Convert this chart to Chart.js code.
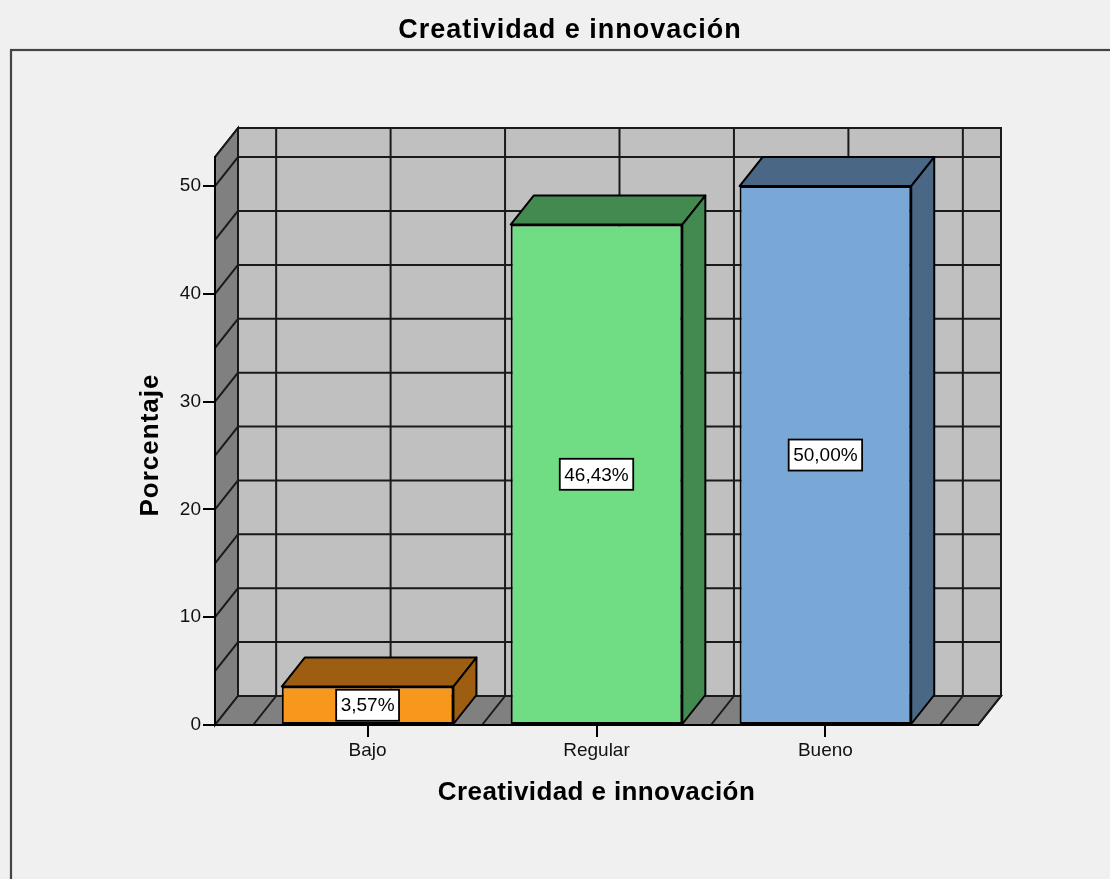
<!DOCTYPE html>
<html>
<head>
<meta charset="utf-8">
<title>Creatividad e innovación</title>
<script src="https://cdn.jsdelivr.net/npm/chart.js@4.4.0/dist/chart.umd.min.js"></script>
<style>
  html, body { margin: 0; padding: 0; background: #f0f0f0; }
  canvas { display: block; }
</style>
</head>
<body>
<canvas id="grafico" width="1110" height="879"></canvas>
<script>
const categorias = ['Bajo', 'Regular', 'Bueno'];
const porcentajes = [3.57, 46.43, 50.00];
const ticksY = [0, 10, 20, 30, 40, 50];

const titulo = 'Creatividad e innovación';
const tituloX = 'Creatividad e innovación';
const tituloY = 'Porcentaje';

const colorFrente = ['#f7981d', '#70dc84', '#7aa8d6'];
const colorLado = ['#9e5e12', '#438a51', '#4a6786'];

const fuente = '"Liberation Sans", Arial, sans-serif';
// desplazamiento de la profundidad 3D (px)
const prof = { dx: 23, dy: 29 };

function etiqueta(v) {
    return v.toFixed(2).replace('.', ',') + '%';
}

function poligono(ctx, pts, relleno) {
    ctx.beginPath();
    ctx.moveTo(pts[0][0], pts[0][1]);
    for (let i = 1; i < pts.length; i++) ctx.lineTo(pts[i][0], pts[i][1]);
    ctx.closePath();
    if (relleno) {
        ctx.fillStyle = relleno;
        ctx.fill();
    }
    ctx.stroke();
}

function linea(ctx, x1, y1, x2, y2) {
    ctx.beginPath();
    ctx.moveTo(x1, y1);
    ctx.lineTo(x2, y2);
    ctx.stroke();
}

const grafico3d = {
    id: 'grafico3d',
    beforeDraw(chart) {
        const ctx = chart.ctx;
        const a = chart.chartArea;
        const x = chart.scales.x;
        const y = chart.scales.y;
        const dx = prof.dx, dy = prof.dy;

        ctx.save();
        ctx.fillStyle = '#f0f0f0';
        ctx.fillRect(0, 0, chart.width, chart.height);
        ctx.strokeStyle = '#444';
        ctx.lineWidth = 2.2;
        ctx.strokeRect(11, 50, chart.width + 20, chart.height + 20);

        const bl = a.left + dx, br = a.right + dx;
        const bt = a.top - dy, bb = a.bottom - dy;

        ctx.strokeStyle = '#1a1a1a';
        ctx.lineWidth = 2;

        // pared del fondo
        ctx.fillStyle = '#c0c0c0';
        ctx.fillRect(bl, bt, br - bl, bb - bt);
        // pared izquierda y piso
        poligono(ctx, [[a.left, a.top], [bl, bt], [bl, bb], [a.left, a.bottom]], '#808080');
        poligono(ctx, [[a.left, a.bottom], [bl, bb], [br, bb], [a.right, a.bottom]], '#808080');

        // rejilla horizontal cada 5 unidades
        for (let v = 5; v <= ticksY[ticksY.length - 1]; v += 5) {
            const py = y.getPixelForValue(v);
            linea(ctx, bl, py - dy, br, py - dy);
            linea(ctx, a.left, py, bl, py - dy);
        }
        // rejilla vertical en centros y límites de categoría
        for (let k = 0; k <= categorias.length * 2; k++) {
            const px = x.getPixelForValue(-0.5 + k * 0.5);
            linea(ctx, px + dx, bt, px + dx, bb);
            linea(ctx, px, a.bottom, px + dx, bb);
        }
        ctx.strokeRect(bl, bt, br - bl, bb - bt);
        linea(ctx, a.left, a.top, bl, bt);
        linea(ctx, a.right, a.bottom, br, bb);
        ctx.restore();
    },
    beforeDatasetsDraw(chart) {
        const ctx = chart.ctx;
        const dx = prof.dx, dy = prof.dy;
        ctx.save();
        ctx.strokeStyle = '#000';
        ctx.lineWidth = 2;
        ctx.lineJoin = 'round';
        chart.getDatasetMeta(0).data.forEach((bar, i) => {
            const p = bar.getProps(['x', 'y', 'base', 'width'], true);
            const l = p.x - p.width / 2, r = p.x + p.width / 2;
            // cara superior
            poligono(ctx, [[l, p.y], [l + dx, p.y - dy], [r + dx, p.y - dy], [r, p.y]], colorLado[i]);
            // cara lateral
            poligono(ctx, [[r, p.y], [r + dx, p.y - dy], [r + dx, p.base - dy], [r, p.base]], colorLado[i]);
        });
        ctx.restore();
    },
    afterDatasetsDraw(chart) {
        const ctx = chart.ctx;
        ctx.save();
        ctx.font = '19px ' + fuente;
        ctx.textAlign = 'center';
        ctx.textBaseline = 'middle';
        chart.getDatasetMeta(0).data.forEach((bar, i) => {
            const p = bar.getProps(['x', 'y', 'base'], true);
            const txt = etiqueta(porcentajes[i]);
            const w = ctx.measureText(txt).width + 9;
            const h = 31;
            const cy = (p.y + p.base) / 2;
            ctx.fillStyle = '#fff';
            ctx.fillRect(p.x - w / 2, cy - h / 2, w, h);
            ctx.strokeStyle = '#000';
            ctx.lineWidth = 1.8;
            ctx.strokeRect(p.x - w / 2, cy - h / 2, w, h);
            ctx.fillStyle = '#000';
            ctx.fillText(txt, p.x, cy + 1);
        });
        ctx.restore();
    },
    afterDraw(chart) {
        const ctx = chart.ctx;
        const a = chart.chartArea;
        ctx.save();
        ctx.fillStyle = '#000';
        ctx.textAlign = 'center';
        ctx.textBaseline = 'alphabetic';

        ctx.font = 'bold 27px ' + fuente;
        ctx.letterSpacing = '1px';
        ctx.fillText(titulo, 570, 38);

        ctx.font = 'bold 26px ' + fuente;
        ctx.letterSpacing = '0.4px';
        ctx.fillText(tituloX, (a.left + a.right) / 2, 800);

        ctx.letterSpacing = '1px';
        ctx.translate(158, (a.top + a.bottom) / 2 + 4);
        ctx.rotate(-Math.PI / 2);
        ctx.fillText(tituloY, 0, 0);
        ctx.restore();
    }
};

new Chart(document.getElementById('grafico'), {
    type: 'bar',
    data: {
        datasets: [{
            data: categorias.map((c, i) => ({ x: i, y: porcentajes[i] })),
            backgroundColor: colorFrente,
            borderColor: '#000',
            borderWidth: 2,
            borderSkipped: false,
            categoryPercentage: 1,
            barPercentage: 0.75
        }]
    },
    options: {
        responsive: false,
        animation: false,
        layout: { padding: { top: 157, right: 132, bottom: 0, left: 0 } },
        plugins: {
            legend: { display: false },
            tooltip: { enabled: false },
            title: { display: false }
        },
        scales: {
            x: {
                type: 'linear',
                min: -2 / 3,
                max: 8 / 3,
                offset: false,
                ticks: {
                    stepSize: 1,
                    includeBounds: false,
                    autoSkip: false,
                    maxRotation: 0,
                    padding: 2,
                    color: '#111',
                    font: { family: fuente, size: 19 },
                    callback: (v) => categorias[v] ?? ''
                },
                grid: { offset: false, drawOnChartArea: false, tickLength: 12, color: '#000', lineWidth: 2 },
                border: { color: '#000', width: 2 },
                afterFit(s) { s.height = 154; }
            },
            y: {
                min: 0,
                max: 52.7,
                afterBuildTicks(s) { s.ticks = ticksY.map(v => ({ value: v })); },
                ticks: {
                    padding: 2,
                    color: '#111',
                    font: { family: fuente, size: 19 }
                },
                grid: { drawOnChartArea: false, tickLength: 12, color: '#000', lineWidth: 2 },
                border: { color: '#000', width: 2 },
                afterFit(s) { s.width = 215; }
            }
        }
    },
    plugins: [grafico3d]
});
</script>
</body>
</html>
